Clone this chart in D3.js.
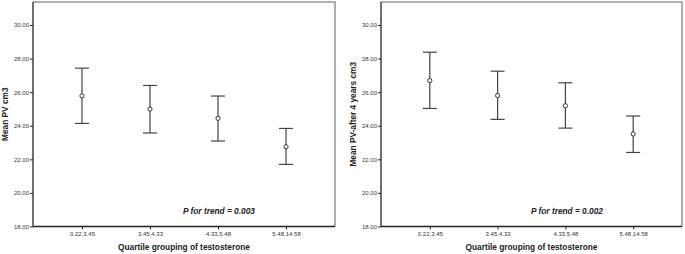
<!DOCTYPE html>
<html lang="en">
<head>
<meta charset="UTF-8">
<title>PV by testosterone quartile</title>
<script src="https://d3js.org/d3.v7.min.js"></script>
<style>
    body { margin: 0; background: #fff; }
    svg { display: block; font-family: "Liberation Sans", Arial, sans-serif; }
    .tick text { fill: #333; font-size: 6px; }
    .axis-title { font-weight: bold; font-size: 8.3px; fill: #222; }
    .trend { font-weight: bold; font-style: italic; font-size: 8.3px; fill: #222; }
</style>
</head>
<body>
<svg width="685" height="254"></svg>
<script>
// quartile groups (x categories)
const groups = ["0.22,3.45", "3.45,4.33", "4.33,5.48", "5.48,14.58"];
const yTicks = [18, 20, 22, 24, 26, 28, 30];

// baseline PV: mean with 95% CI
const pvMean  = [25.78, 24.99, 24.44, 22.75];
const pvLow   = [24.14, 23.57, 23.09, 21.70];
const pvHigh  = [27.43, 26.40, 25.77, 23.84];

// PV after 4 years
const pv4Mean = [26.69, 25.80, 25.19, 23.51];
const pv4Low  = [25.03, 24.38, 23.86, 22.41];
const pv4High = [28.38, 27.25, 26.56, 24.58];

const panels = [
    {left: 33, right: 335, title: "Mean PV cm3", trend: "P for trend = 0.003", trendX: 183,
     mean: pvMean, low: pvLow, high: pvHigh, titleX: 6},
    {left: 381, right: 682, title: "Mean PV-after 4 years cm3", trend: "P for trend = 0.002", trendX: 531,
     mean: pv4Mean, low: pv4Low, high: pv4High, titleX: 354}
];

const plotTop = 2, plotBottom = 226.5;
const svg = d3.select("svg");

const y = d3.scaleLinear().domain([18, 31.37]).range([plotBottom, plotTop]);

panels.forEach(p => {
    const g = svg.append("g");
    const x = d3.scalePoint().domain(groups).range([p.left, p.right]).padding(0.72);

    // gray frame top and right
    g.append("path")
        .attr("d", `M${p.left},${plotTop}H${p.right}V${plotBottom}`)
        .attr("fill", "none")
        .attr("stroke", "#999")
        .attr("stroke-width", 1.6);

    const yAxis = g.append("g")
        .attr("transform", `translate(${p.left},0)`)
        .call(d3.axisLeft(y).tickValues(yTicks).tickSize(3).tickPadding(1).tickFormat(d3.format(".2f")));
    yAxis.select(".domain").attr("d", `M0,${plotTop}V${plotBottom}`).attr("stroke", "#222").attr("stroke-width", 1.3);
    yAxis.selectAll(".tick line").attr("stroke", "#222");

    const xAxis = g.append("g")
        .attr("transform", `translate(0,${plotBottom})`)
        .call(d3.axisBottom(x).tickSize(3).tickPadding(2));
    xAxis.select(".domain").attr("d", `M${p.left},0H${p.right}`).attr("stroke", "#222").attr("stroke-width", 1.3);
    xAxis.selectAll(".tick line").attr("stroke", "#222");

    g.append("text")
        .attr("class", "axis-title")
        .attr("x", (p.left + p.right) / 2)
        .attr("y", 250)
        .attr("text-anchor", "middle")
        .text("Quartile grouping of testosterone");

    g.append("text")
        .attr("class", "axis-title")
        .attr("transform", `translate(${p.titleX},${(plotTop + plotBottom) / 2}) rotate(-90)`)
        .attr("text-anchor", "middle")
        .attr("dominant-baseline", "middle")
        .text(p.title);

    g.append("text")
        .attr("class", "trend")
        .attr("x", p.trendX)
        .attr("y", 214)
        .text(p.trend);

    const data = groups.map((k, i) => ({k, m: p.mean[i], lo: p.low[i], hi: p.high[i]}));
    const bars = g.selectAll(".bar").data(data).enter().append("g").attr("class", "bar");

    bars.append("line")
        .attr("x1", d => x(d.k)).attr("x2", d => x(d.k))
        .attr("y1", d => y(d.lo)).attr("y2", d => y(d.hi))
        .attr("stroke", "#444").attr("stroke-width", 1.2);
    ["lo", "hi"].forEach(key => {
        bars.append("line")
            .attr("x1", d => x(d.k) - 7).attr("x2", d => x(d.k) + 7)
            .attr("y1", d => y(d[key])).attr("y2", d => y(d[key]))
            .attr("stroke", "#444").attr("stroke-width", 1.2);
    });
    bars.append("circle")
        .attr("cx", d => x(d.k)).attr("cy", d => y(d.m))
        .attr("r", 2.1)
        .attr("fill", "#fff")
        .attr("stroke", "#333")
        .attr("stroke-width", 1);
});
</script>
</body>
</html>
